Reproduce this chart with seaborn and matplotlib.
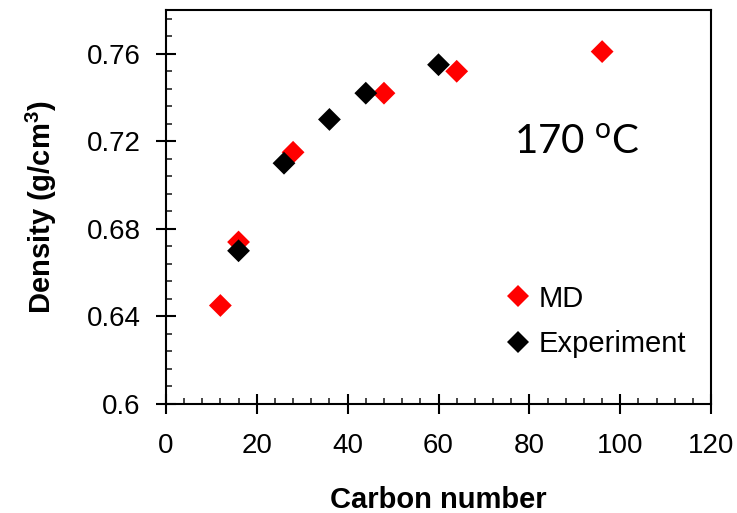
import pandas as pd
import matplotlib.pyplot as plt
import seaborn as sns
from matplotlib.ticker import MultipleLocator

# Data
md_carbon = [12, 16, 28, 48, 64, 96]
md_density = [0.645, 0.674, 0.715, 0.742, 0.752, 0.761]
exp_carbon = [16, 26, 36, 44, 60]
exp_density = [0.670, 0.710, 0.730, 0.742, 0.755]

df = pd.concat([
    pd.DataFrame({'carbon': md_carbon, 'density': md_density, 'series': 'MD'}),
    pd.DataFrame({'carbon': exp_carbon, 'density': exp_density, 'series': 'Experiment'}),
], ignore_index=True)

sns.set_style('ticks')
plt.rcParams['font.family'] = ['Liberation Sans', 'DejaVu Sans']
plt.rcParams['mathtext.fontset'] = 'custom'
plt.rcParams['mathtext.rm'] = 'Liberation Sans'
plt.rcParams['mathtext.bf'] = 'Liberation Sans:bold'
plt.rcParams['text.color'] = 'black'
plt.rcParams['axes.labelcolor'] = 'black'

fig = plt.figure(figsize=(7.37, 5.13), dpi=100)
ax = fig.add_axes([0.225, 0.2125, 0.74, 0.768])

sns.scatterplot(data=df, x='carbon', y='density', hue='series',
                palette={'MD': 'red', 'Experiment': 'black'},
                marker='D', s=135, linewidth=0, ax=ax)

ax.set_xlim(0, 120)
ax.set_ylim(0.6, 0.78)
ax.xaxis.set_major_locator(MultipleLocator(20))
ax.xaxis.set_minor_locator(MultipleLocator(4))
ax.yaxis.set_minor_locator(MultipleLocator(0.008))
ax.set_yticks([0.6, 0.64, 0.68, 0.72, 0.76])
ax.set_yticklabels(['0.6', '0.64', '0.68', '0.72', '0.76'])

ax.tick_params(which='major', direction='inout', length=14, width=1.5,
               labelsize=20, colors='black')
ax.tick_params(axis='x', which='major', pad=14)
ax.tick_params(axis='y', which='major', pad=11)
ax.tick_params(which='minor', direction='in', length=4, width=1.2)

for sp in ax.spines.values():
    sp.set_visible(True)
    sp.set_linewidth(1.5)
    sp.set_color('black')

ax.set_xlabel('Carbon number', fontsize=21, fontweight='bold', labelpad=19)
ax.set_ylabel('Density (g/cm$^{\\mathregular{3}}$)', fontsize=21, fontweight='bold', labelpad=20)

ax.text(76.5, 0.7195, '170 $^{\\mathregular{o}}$C', fontsize=29, family=['Lato', 'DejaVu Sans'],
        va='center', ha='left')

ax.legend(loc='upper left', bbox_to_anchor=(75.0, 0.6545), bbox_transform=ax.transData,
          frameon=False, fontsize=21, handlelength=0.8, handletextpad=0.3,
          borderpad=0, borderaxespad=0, labelspacing=0.6)

fig.savefig('out.png', dpi=100)
